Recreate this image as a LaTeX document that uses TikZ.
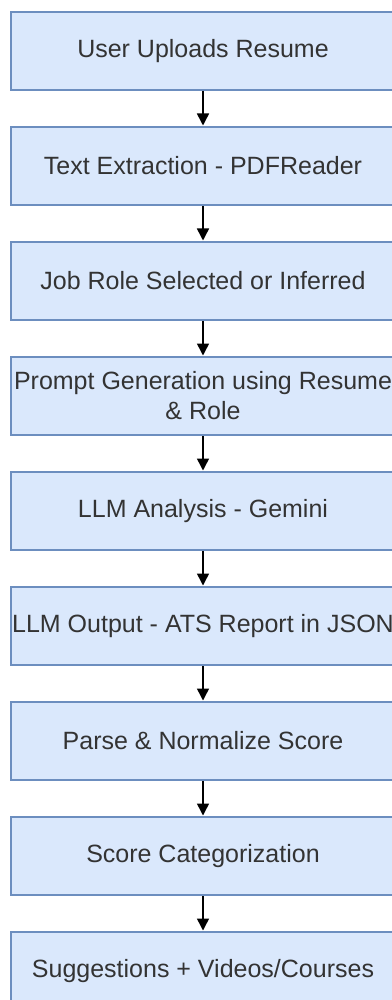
\documentclass[tikz,border=0pt]{standalone}
\usepackage{fontspec}
\setmainfont{Liberation Sans}
\usetikzlibrary{arrows.meta}
\definecolor{boxfill}{HTML}{DAE8FC}
\definecolor{boxline}{HTML}{6C8EBF}
\definecolor{txt}{HTML}{333333}
\tikzset{
  flowbox/.style={draw=boxline, fill=boxfill, line width=2pt, minimum width=384pt, minimum height=78pt,
    inner sep=0pt, align=center, text=txt, font=\fontsize{25}{30}\selectfont},
  flowarrow/.style={draw=black, line width=1.5pt, -{Triangle[width=12pt,length=12pt]}, shorten >=0.5pt}
}
\begin{document}
\begin{tikzpicture}[x=1pt,y=1pt]
\useasboundingbox (0,0) rectangle (391,-1000);
\fill[white] (0,0) rectangle (391,-1000);
\node[flowbox] (b1) at (203,-51) {User Uploads Resume};
\node[flowbox] (b2) at (203,-166) {Text Extraction - PDFReader};
\node[flowbox] (b3) at (203,-281) {Job Role Selected or Inferred};
\node[flowbox] (b4) at (203,-396) {Prompt Generation using Resume\\\& Role};
\node[flowbox] (b5) at (203,-511) {LLM Analysis - Gemini};
\node[flowbox] (b6) at (203,-626) {LLM Output - ATS Report in JSON};
\node[flowbox] (b7) at (203,-741) {Parse \& Normalize Score};
\node[flowbox] (b8) at (203,-856) {Score Categorization};
\node[flowbox] (b9) at (203,-971) {Suggestions + Videos/Courses};
\foreach \a/\b in {b1/b2,b2/b3,b3/b4,b4/b5,b5/b6,b6/b7,b7/b8,b8/b9}
  \draw[flowarrow] (\a.south) -- (\b.north);
\end{tikzpicture}
\end{document}
